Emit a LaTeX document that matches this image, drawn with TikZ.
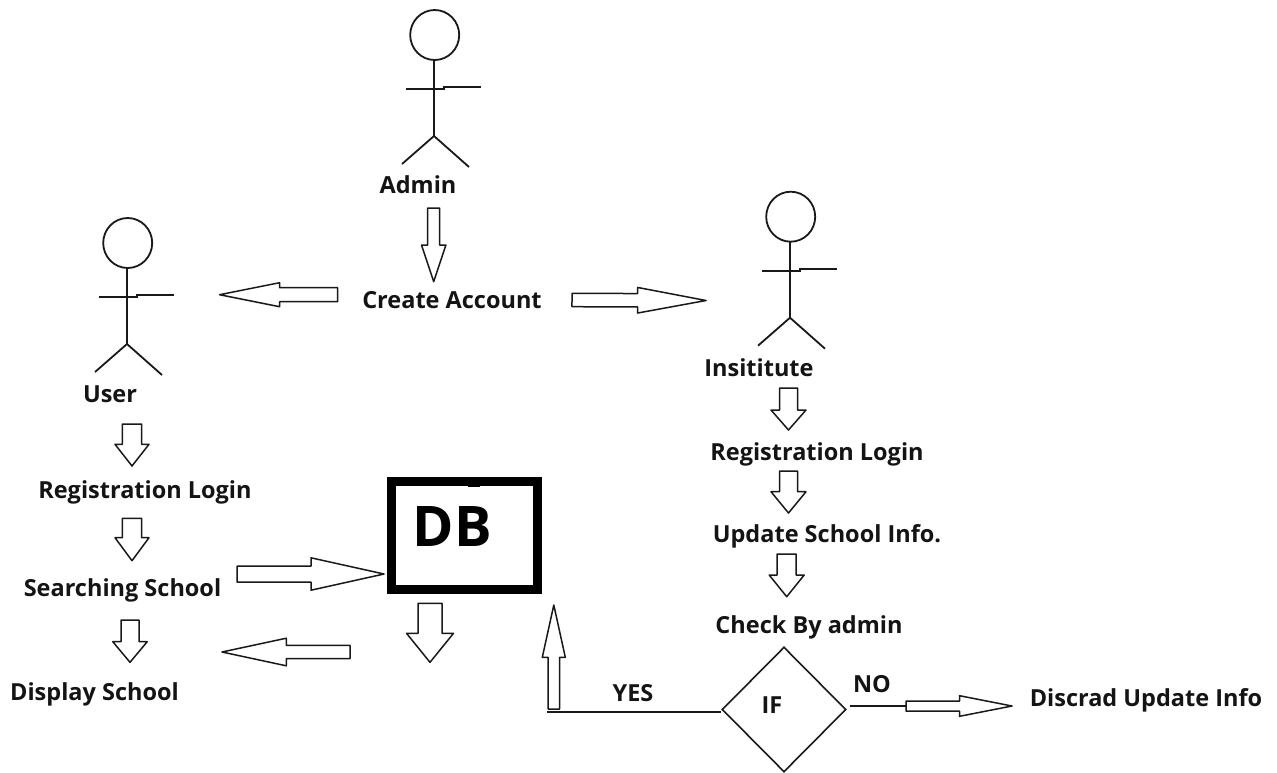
\documentclass[tikz,border=0pt]{standalone}
\usepackage{fontspec}
\setmainfont{Open Sans}
\usetikzlibrary{calc,shapes.geometric}
\tikzset{
  label text/.style={font=\fontsize{23.5}{26}\selectfont\bfseries,text=black!92,inner sep=0pt,anchor=center},
  thin line/.style={draw=black!90,line width=1.8pt},
  block arrow/.style={draw=black!90,line width=1.5pt,fill=white,line join=round},
  actor/.pic={
    \draw[thin line] (0.7,0) ellipse [x radius=24.5,y radius=25];
    \draw[thin line] (0,25) -- (0,101);
    \draw[thin line] (-28,54) -- (10,54) -- (10,52.3) -- (47,52.3);
    \draw[thin line] (-32,129) -- (0,101) -- (35,132);
  }
}
% name, tail, tip, half shaft, half head, head length
\newcommand\blockarrow[6]{%
  \coordinate (#1t) at (#2);
  \coordinate (#1h) at (#3);
  \coordinate (#1b) at ($(#1h)!#6pt!(#1t)$);
  \draw[block arrow]
    ($(#1t)!#4pt!90:(#1h)$) -- ($(#1b)!#4pt!90:(#1h)$) -- ($(#1b)!#5pt!90:(#1h)$) --
    (#1h) -- ($(#1b)!#5pt!-90:(#1h)$) -- ($(#1b)!#4pt!-90:(#1h)$) --
    ($(#1t)!#4pt!-90:(#1h)$) -- cycle;
}
\begin{document}
\begin{tikzpicture}[x=1pt,y=-1pt]
\useasboundingbox (0,0) rectangle (1277,772);
\fill[white] (0,0) rectangle (1277,772);

% actors
\pic at (434,35) {actor};
\pic at (127,243) {actor};
\pic at (790,216.7) {actor};

% texts
\node[label text] (admin) at (418,185) {Admin};
\node[label text] (create) at (452,300) {Create Account};
\node[label text] (user) at (110,394) {User};
\node[label text] (reg1) at (145,492.5) {Registration Login};
\node[label text] (search) at (122.5,590) {Searching School};
\node[label text] (display) at (94.5,694) {Display School};
\node[label text] (inst) at (759,368) {Insititute};
\node[label text] (reg2) at (817,454.5) {Registration Login};
\node[label text] (update) at (827,536) {Update School Info.};
\node[label text] (check) at (809,627) {Check By admin};
\node[label text] (yes) at (633,693) {YES};
\node[label text] (no) at (872,684) {NO};
\node[label text] (iftext) at (772,705.5) {IF};
\node[label text] (discard) at (1146,700) {Discrad Update Info};

% DB
\node[draw=black,line width=9pt,minimum width=146pt,minimum height=108pt,inner sep=0pt] (db) at (464.6,535) {};
\fill[black] (468,485) rectangle (480,487);
\node[font=\fontsize{56}{60}\selectfont\bfseries,inner sep=0pt] (dblabel) at (452.5,527) {DB};

% IF diamond
\node[draw=black!90,line width=1.6pt,shape=diamond,aspect=1,minimum width=124pt,minimum height=125pt,inner sep=0pt] (ifd) at (784,709.5) {};

% block arrows
\blockarrow{a1}{433.7,208}{433.7,281.7}{6}{12.2}{36.7}
\blockarrow{a2}{337.6,294.7}{219.6,294.7}{7}{12}{60}
\blockarrow{a3}{572,300}{706,300.5}{6.7}{12.8}{68.4}

\blockarrow{u1}{132,424}{132,466}{9.7}{17}{21.7}
\blockarrow{u2}{132,518.3}{132,560.7}{9.7}{17}{23}
\blockarrow{u3}{130,620}{130,662.3}{9}{17.2}{20.6}

\blockarrow{d1}{237,574}{384,574}{8}{16.2}{73}
\blockarrow{d2}{350,652}{222,652}{6.7}{13.8}{64.3}
\blockarrow{d3}{430,603.3}{430,662.3}{12}{23.5}{29}

\blockarrow{i1}{788.5,388}{788.5,430}{9}{17.5}{20}
\blockarrow{i2}{788.5,471}{788.5,513}{9}{17.5}{21.3}
\blockarrow{i3}{786.7,554}{786.7,596.7}{9.5}{17.5}{21.7}

\blockarrow{up}{553.8,709}{553.8,605}{5.7}{11.5}{52.3}
\blockarrow{nn}{906,706}{1012,706}{5}{10.3}{52.5}

% connectors
\coordinate (yesc) at (547,712);
\draw[thin line] (yesc) -- (yesc -| ifd.west);
\draw[thin line] ([xshift=3pt]ifd.east |- nnt) -- (nnt);
\end{tikzpicture}
\end{document}
